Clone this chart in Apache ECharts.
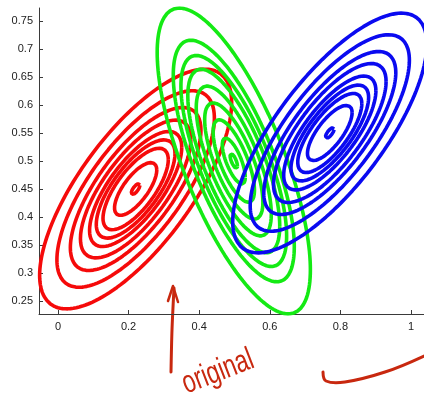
<!DOCTYPE html>
<html>
<head>
<meta charset="utf-8">
<script src="https://cdn.jsdelivr.net/npm/echarts@6/dist/echarts.min.js"></script>
<style>
html,body{margin:0;padding:0;background:#fff;}
#chart{width:424px;height:407px;}
</style>
</head>
<body>
<div id="chart"></div>
<script>
// Tick labels
const xTicks = [0, 0.2, 0.4, 0.6, 0.8, 1];
const yTicks = [0.25, 0.3, 0.35, 0.4, 0.45, 0.5, 0.55, 0.6, 0.65, 0.7, 0.75];

// Gaussian blobs: mean, outer-contour half-extent (x, y), correlation, contour scale levels
const redCenter = [0.220, 0.450];
const redSpread = [0.272, 0.214];
const redCorr = 0.72;
const redLevels = [1, 0.82, 0.68, 0.575, 0.48, 0.41, 0.34, 0.22, 0.045];

const greenCenter = [0.498, 0.500];
const greenSpread = [0.217, 0.273];
const greenCorr = -0.71;
const greenLevels = [1, 0.79, 0.69, 0.60, 0.49, 0.38, 0.27, 0.15, 0.048];

const blueCenter = [0.770, 0.550];
const blueSpread = [0.275, 0.214];
const blueCorr = 0.74;
const blueLevels = [1, 0.82, 0.68, 0.58, 0.475, 0.40, 0.33, 0.23, 0.045];

const annotationText = 'original';

function contour(center, spread, corr, k) {
  const d = Math.acos(corr);
  const pts = [];
  const n = 160;
  for (let i = 0; i <= n; i++) {
    const t = 2 * Math.PI * i / n;
    pts.push([center[0] + k * spread[0] * Math.cos(t),
              center[1] + k * spread[1] * Math.cos(t - d)]);
  }
  return pts;
}

const series = [];
function addBlob(center, spread, corr, levels, color) {
  levels.forEach(k => {
    series.push({
      type: 'line',
      data: contour(center, spread, corr, k),
      showSymbol: false,
      symbol: 'none',
      smooth: false,
      lineStyle: { color: color, width: 3.6 },
      silent: true,
      clip: true
    });
  });
}
addBlob(redCenter, redSpread, redCorr, redLevels, '#f50a0a');
addBlob(greenCenter, greenSpread, greenCorr, greenLevels, '#14ea14');
addBlob(blueCenter, blueSpread, blueCorr, blueLevels, '#0a0af0');

const axisCommon = {
  type: 'value',
  splitLine: { show: false },
  axisLine: { show: true, onZero: false, lineStyle: { color: '#3a3a3a', width: 1 } },
  axisTick: { show: true, inside: true, length: 4, lineStyle: { color: '#3a3a3a' } },
  axisLabel: { color: '#222', fontFamily: 'Liberation Sans', fontSize: 11 }
};

const ink = '#c8280f';

const option = {
  animation: false,
  backgroundColor: '#fff',
  grid: { left: 39, right: 0, top: 8, bottom: 93, containLabel: false },
  xAxis: Object.assign({}, axisCommon, {
    min: -0.0538, max: 1.0369,
    axisTick: Object.assign({}, axisCommon.axisTick, { customValues: xTicks }),
    axisLabel: Object.assign({}, axisCommon.axisLabel, { customValues: xTicks, margin: 7, formatter: v => String(+v.toFixed(2)) })
  }),
  yAxis: Object.assign({}, axisCommon, {
    min: 0.2268, max: 0.7732,
    axisTick: Object.assign({}, axisCommon.axisTick, { customValues: yTicks }),
    axisLabel: Object.assign({}, axisCommon.axisLabel, { customValues: yTicks, margin: 6, formatter: v => String(+v.toFixed(2)) })
  }),
  series: series,
  graphic: [
    { type: 'polyline', shape: { points: [[171, 372], [172, 330], [174, 288]], smooth: 0.3 },
      style: { stroke: ink, lineWidth: 3, fill: null, lineCap: 'round' } },
    { type: 'polyline', shape: { points: [[168, 301], [173, 286], [178, 302]] },
      style: { stroke: ink, lineWidth: 2.5, fill: null, lineCap: 'round', lineJoin: 'round' } },
    { type: 'polyline', shape: { points: [[323, 372], [326, 381], [345, 382], [385, 372], [424, 356]], smooth: 0.4 },
      style: { stroke: ink, lineWidth: 3, fill: null, lineCap: 'round' } },
    { type: 'text', x: 218, y: 372, rotation: 0.37, scaleX: 0.72,
      style: { text: annotationText, fill: ink, font: '32px "Liberation Sans"', align: 'center', verticalAlign: 'middle' } }
  ]
};

const chart = echarts.init(document.getElementById('chart'), null, { renderer: 'canvas' });
chart.setOption(option);
</script>
</body>
</html>
